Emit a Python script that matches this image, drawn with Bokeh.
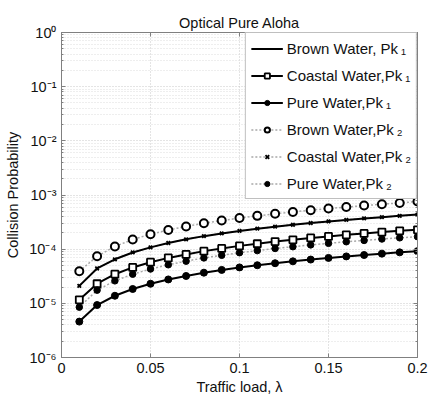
from bokeh.plotting import figure
from bokeh.models import (FixedTicker, CustomJSTickFormatter, Legend, LegendItem,
                          LinearAxis, LogAxis, Range1d)
from bokeh.embed import file_html
from bokeh.resources import INLINE

# ---------------- data ----------------
traffic_load = [0.01, 0.02, 0.03, 0.04, 0.05, 0.06, 0.07, 0.08, 0.09, 0.10,
                0.11, 0.12, 0.13, 0.14, 0.15, 0.16, 0.17, 0.18, 0.19, 0.20]

brown_pk1 = [2.1e-5, 4.4e-5, 6.5e-5, 8.7e-5, 1.08e-4, 1.30e-4, 1.52e-4, 1.74e-4, 1.95e-4, 2.17e-4,
             2.39e-4, 2.60e-4, 2.82e-4, 3.04e-4, 3.25e-4, 3.47e-4, 3.69e-4, 3.90e-4, 4.12e-4, 4.35e-4]
coastal_pk1 = [1.16e-5, 2.3e-5, 3.45e-5, 4.6e-5, 5.75e-5, 6.9e-5, 8.0e-5, 9.2e-5, 1.03e-4, 1.15e-4,
               1.26e-4, 1.38e-4, 1.49e-4, 1.61e-4, 1.72e-4, 1.84e-4, 1.95e-4, 2.07e-4, 2.18e-4, 2.28e-4]
pure_pk1 = [4.6e-6, 9.3e-6, 1.38e-5, 1.84e-5, 2.3e-5, 2.76e-5, 3.2e-5, 3.68e-5, 4.14e-5, 4.6e-5,
            5.05e-5, 5.5e-5, 5.97e-5, 6.43e-5, 6.9e-5, 7.35e-5, 7.8e-5, 8.27e-5, 8.73e-5, 9.2e-5]
brown_pk2 = [3.9e-5, 7.4e-5, 1.12e-4, 1.51e-4, 1.88e-4, 2.26e-4, 2.63e-4, 3.0e-4, 3.38e-4, 3.75e-4,
             4.12e-4, 4.5e-4, 4.87e-4, 5.24e-4, 5.62e-4, 6.0e-4, 6.38e-4, 6.76e-4, 7.13e-4, 7.6e-4]
coastal_pk2 = [2.1e-5, 4.4e-5, 6.5e-5, 8.7e-5, 1.08e-4, 1.30e-4, 1.52e-4, 1.74e-4, 1.95e-4, 2.17e-4,
               2.39e-4, 2.60e-4, 2.82e-4, 3.04e-4, 3.25e-4, 3.47e-4, 3.69e-4, 3.90e-4, 4.12e-4, 4.35e-4]
pure_pk2 = [8.5e-6, 1.75e-5, 2.6e-5, 3.45e-5, 4.3e-5, 5.15e-5, 6.0e-5, 6.9e-5, 7.7e-5, 8.6e-5,
            9.4e-5, 1.03e-4, 1.11e-4, 1.2e-4, 1.28e-4, 1.37e-4, 1.45e-4, 1.54e-4, 1.62e-4, 1.7e-4]

x_ticks = [0, 0.05, 0.1, 0.15, 0.2]
y_ticks = [1e-6, 1e-5, 1e-4, 1e-3, 1e-2, 1e-1, 1e0]
labels = ["Brown Water, Pk\u2009\u2081", "Coastal Water,Pk\u2009\u2081", "Pure Water,Pk\u2009\u2081",
          "Brown Water,Pk\u2009\u2082", "Coastal Water,Pk\u2009\u2082", "Pure Water,Pk\u2009\u2082"]
title_text = "Optical Pure Aloha"
x_label = "Traffic load, \u03bb"
y_label = "Collision Probability"

FONT = "Liberation Sans"
FS = "14.5px"
AX = "#808080"
TXT = "#111111"

p = figure(width=429, height=397, output_backend="svg", toolbar_location=None,
           y_axis_type="log", x_range=Range1d(0, 0.2), y_range=Range1d(1e-6, 1),
           min_border_left=61, min_border_right=12, min_border_top=32, min_border_bottom=38)
p.title.text = title_text
p.title.align = "center"
p.title.text_font = FONT
p.title.text_font_size = FS
p.title.text_font_style = "normal"
p.title.text_color = TXT
p.title.standoff = 4

p.outline_line_color = AX
p.background_fill_color = "white"

minor_y = [m * 10.0 ** k for k in range(-6, 0) for m in range(2, 10)]

sup_code = r"""
const sup = {'-':'\u207B','0':'\u2070','1':'\u00B9','2':'\u00B2','3':'\u00B3','4':'\u2074','5':'\u2075','6':'\u2076','7':'\u2077','8':'\u2078','9':'\u2079'};
const e = Math.round(Math.log10(tick));
return '10' + String(e).split('').map(c => sup[c]).join('');
"""

xa = p.xaxis[0]
xa.ticker = FixedTicker(ticks=x_ticks)
xa.formatter = CustomJSTickFormatter(code="return String(parseFloat(tick.toFixed(2)));")
ya = p.yaxis[0]
ya.ticker = FixedTicker(ticks=y_ticks, minor_ticks=minor_y)
ya.formatter = CustomJSTickFormatter(code=sup_code)

for ax in (xa, ya):
    ax.axis_line_color = AX
    ax.major_tick_line_color = AX
    ax.minor_tick_line_color = AX
    ax.major_tick_in = 4
    ax.major_tick_out = 0
    ax.minor_tick_in = 2
    ax.minor_tick_out = 0
    ax.major_label_text_font = FONT
    ax.major_label_text_font_size = FS
    ax.major_label_text_color = TXT
    ax.axis_label_text_font = FONT
    ax.axis_label_text_font_size = FS
    ax.axis_label_text_font_style = "normal"
    ax.axis_label_text_color = TXT
xa.minor_tick_line_color = None
xa.axis_label = x_label
xa.major_label_standoff = 5
xa.axis_label_standoff = 3
ya.axis_label = y_label
ya.major_label_standoff = 5
ya.axis_label_standoff = 5

# box axes (top / right) with inward ticks, no labels
top = LinearAxis(ticker=FixedTicker(ticks=x_ticks),
                 formatter=CustomJSTickFormatter(code="return '';"))
right = LogAxis(ticker=FixedTicker(ticks=y_ticks, minor_ticks=minor_y),
                formatter=CustomJSTickFormatter(code="return '';"))
for ax in (top, right):
    ax.axis_line_color = AX
    ax.major_tick_line_color = AX
    ax.minor_tick_line_color = AX
    ax.major_tick_in = 4
    ax.major_tick_out = 0
    ax.minor_tick_in = 2
    ax.minor_tick_out = 0
    ax.major_label_standoff = 0
top.minor_tick_line_color = None
p.add_layout(top, "above")
p.add_layout(right, "right")

# grids
p.xgrid.ticker = FixedTicker(ticks=x_ticks)
p.xgrid.grid_line_color = "#c8c8c8"
p.xgrid.grid_line_dash = "1 2"
p.ygrid.ticker = FixedTicker(ticks=y_ticks, minor_ticks=minor_y)
p.ygrid.grid_line_color = "#c8c8c8"
p.ygrid.grid_line_dash = "1 2"
p.ygrid.minor_grid_line_color = "#dcdcdc"
p.ygrid.minor_grid_line_dash = "1 2"

GRAY = "#a8a8a8"
x = traffic_load

# Pk2 series: gray dotted lines with markers
l_b2 = p.line(x, brown_pk2, line_color=GRAY, line_width=1.5, line_dash="2 2")
l_c2 = p.line(x, coastal_pk2, line_color=GRAY, line_width=1.5, line_dash="2 2")
l_p2 = p.line(x, pure_pk2, line_color=GRAY, line_width=1.5, line_dash="2 2")
# Pk1 series: black solid lines
l_b1 = p.line(x, brown_pk1, line_color="black", line_width=2)
l_c1 = p.line(x, coastal_pk1, line_color="black", line_width=2)
l_p1 = p.line(x, pure_pk1, line_color="black", line_width=2)

m_c1 = p.scatter(x, coastal_pk1, marker="square", size=7, fill_color="white",
                 line_color="black", line_width=1.8)
m_p1 = p.scatter(x, pure_pk1, marker="circle", size=7, fill_color="black", line_color="black")
m_b2 = p.scatter(x, brown_pk2, marker="circle", size=8, fill_color="white",
                 line_color="black", line_width=2)
m_c2 = p.scatter(x, coastal_pk2, marker="x", size=5, line_color="black", line_width=1.8)
m_p2 = p.scatter(x, pure_pk2, marker="circle", size=6.5, fill_color="black", line_color="black")

items = [
    LegendItem(label=labels[0], renderers=[l_b1]),
    LegendItem(label=labels[1], renderers=[l_c1, m_c1]),
    LegendItem(label=labels[2], renderers=[l_p1, m_p1]),
    LegendItem(label=labels[3], renderers=[l_b2, m_b2]),
    LegendItem(label=labels[4], renderers=[l_c2, m_c2]),
    LegendItem(label=labels[5], renderers=[l_p2, m_p2]),
]
legend = Legend(items=items, location="top_right")
legend.label_text_font = FONT
legend.label_text_font_size = "15px"
legend.label_text_color = TXT
legend.glyph_width = 32
legend.glyph_height = 13
legend.label_height = 20
legend.spacing = 7
legend.padding = 5
legend.margin = 0
legend.label_standoff = 4
legend.border_line_color = AX
legend.border_line_width = 1
legend.background_fill_color = "white"
legend.background_fill_alpha = 1
p.add_layout(legend)

with open("out.html", "w", encoding="utf-8") as f:
    f.write(file_html(p, INLINE))
